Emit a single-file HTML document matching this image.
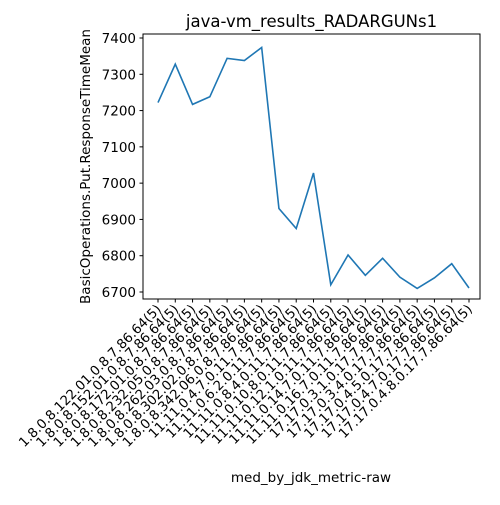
<!DOCTYPE html>
<html><head><meta charset="utf-8"><style>body{margin:0;background:#fff}svg{font-family:"DejaVu Sans","Liberation Sans",sans-serif}</style></head>
<body>
<svg id="c" width="500" height="500"></svg>
<script>
const categories=["1.8.0.8.122.01.0.8.7.86.64(5)","1.8.0.8.152.01.0.8.7.86.64(5)","1.8.0.8.172.01.0.8.7.86.64(5)","1.8.0.8.232.05.0.8.7.86.64(5)","1.8.0.8.262.03.0.8.7.86.64(5)","1.8.0.8.302.02.0.8.7.86.64(5)","1.8.0.8.342.06.0.8.7.86.64(5)","11.11.0.4.7.0.11.7.86.64(5)","11.11.0.6.2.0.11.7.86.64(5)","11.11.0.8.4.0.11.7.86.64(5)","11.11.0.10.8.0.11.7.86.64(5)","11.11.0.12.1.0.11.7.86.64(5)","11.11.0.14.7.0.11.7.86.64(5)","11.11.0.16.7.0.11.7.86.64(5)","17.17.0.3.1.0.17.7.86.64(5)","17.17.0.3.4.0.17.7.86.64(5)","17.17.0.4.5.0.17.7.86.64(5)","17.17.0.4.7.0.17.7.86.64(5)","17.17.0.4.8.0.17.7.86.64(5)"];
const values=[7222,7328,7217,7238,7344,7338,7374,6930,6875,7028,6720,6802,6746,6793,6741,6710,6739,6778,6711];
const yTicks=[6700,6800,6900,7000,7100,7200,7300,7400];
const NS="http://www.w3.org/2000/svg",svg=document.getElementById("c");
const L=143,R=480,T=34,B=299;
const x=i=>158+i*(469-158)/(categories.length-1);
const y=v=>292-(v-6700)*(292-38)/700;
function el(t,a,p){const e=document.createElementNS(NS,t);for(const k in a)e.setAttribute(k,a[k]);(p||svg).appendChild(e);return e;}
const frame=el("rect",{x:L,y:T,width:R-L,height:B-T,fill:"none",stroke:"#000","stroke-width":1});


yTicks.forEach(v=>{
 const tk=el("line",{x1:L-3.5,x2:L,y1:y(v),y2:y(v),stroke:"#000"});
 
 
 const t=el("text",{x:L-7,y:y(v)+5,"text-anchor":"end","font-size":"13.5"});t.textContent=v;
 
 
});
categories.forEach((c,i)=>{
 const tk=el("line",{x1:x(i),x2:x(i),y1:B,y2:B+3.5,stroke:"#000"});
 
 
 const t=el("text",{x:x(i)+4,y:B+11,"text-anchor":"end","font-size":"13.2",transform:`rotate(-45 ${x(i)+4} ${B+11})`});t.textContent=c;
 
 
});
const line=el("polyline",{points:values.map((v,i)=>x(i)+","+y(v)).join(" "),fill:"none",stroke:"#1f77b4","stroke-width":1.6});


const ti=el("text",{x:(L+R)/2,y:27,"text-anchor":"middle","font-size":"16.5"});ti.textContent="java-vm_results_RADARGUNs1";


const xl=el("text",{x:311,y:482,"text-anchor":"middle","font-size":"13.5"});xl.textContent="med_by_jdk_metric-raw";


const yl=el("text",{x:0,y:0,"text-anchor":"middle","font-size":"13.5",transform:`translate(90 ${(T+B)/2}) rotate(-90)`});yl.textContent="BasicOperations.Put.ResponseTimeMean";


</script>
</body></html>
